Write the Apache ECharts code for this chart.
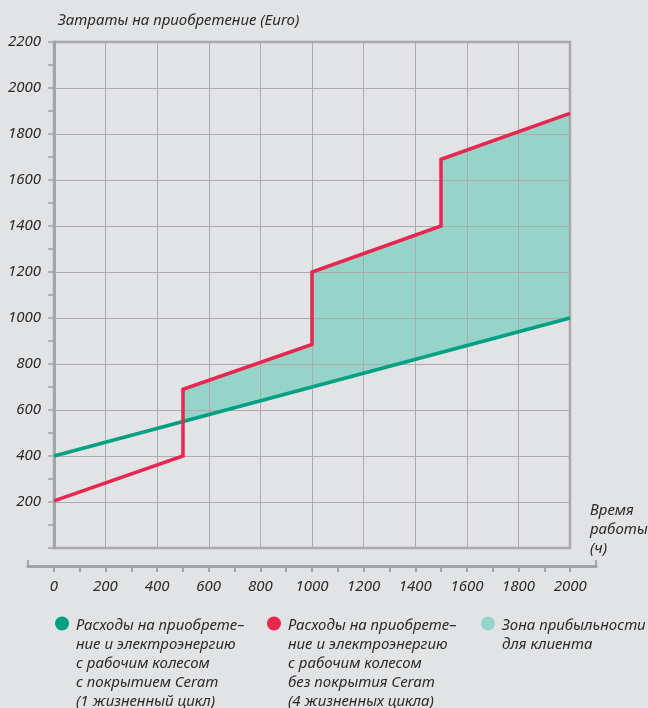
<!DOCTYPE html>
<html><head><meta charset="utf-8">
<script src="https://cdn.jsdelivr.net/npm/echarts@6/dist/echarts.min.js"></script>
<style>html,body{margin:0;padding:0;background:#e2e3e5}#c{width:648px;height:708px}</style>
</head><body><div id="c"></div>
<script>
// ---- data ----
const greenLine = [[0, 400], [2000, 1000]];
const redLine = [[0, 205], [500, 400], [500, 690], [1000, 885], [1000, 1200], [1500, 1400], [1500, 1690], [2000, 1890]];
const profitZone = [[500, 690], [1000, 885], [1000, 1200], [1500, 1400], [1500, 1690], [2000, 1890], [2000, 1000], [500, 550]];
const yTickLabels = [200, 400, 600, 800, 1000, 1200, 1400, 1600, 1800, 2000, 2200];
const xTickLabels = [0, 200, 400, 600, 800, 1000, 1200, 1400, 1600, 1800, 2000];
const xTickMarks = [0, 100, 200, 300, 400, 500, 600, 700, 800, 900, 1000, 1100, 1200, 1300, 1400, 1500, 1600, 1700, 1800, 1900, 2000];
const xAxisEnds = [-100, 2100];
const nameGreen = 'Расходы на приобрете–\nние и электроэнергию\nс рабочим колесом\nс покрытием Ceram\n(1 жизненный цикл)';
const nameRed = 'Расходы на приобрете–\nние и электроэнергию\nс рабочим колесом\nбез покрытия Ceram\n(4 жизненных цикла)';
const nameZone = 'Зона прибыльности\nдля клиента';
const yAxisTitle = 'Затраты на приобретение (Euro)';
const xAxisTitle = 'Время\nработы\n(ч)';

const FONT = 'Noto Sans';
const AX = '#a4a5a7';
const GRIDC = '#ababad';
const TXT = '#2b2b2b';
const GREEN = '#00a183';
const RED = '#e8264f';
const TEAL = '#96d3c9';

const legendItems = [
  {name: nameGreen, color: GREEN, x: 62},
  {name: nameRed, color: RED, x: 274},
  {name: nameZone, color: TEAL, x: 488}
];
const legendGraphics = [];
legendItems.forEach(it => {
  legendGraphics.push({type: 'circle', shape: {cx: it.x, cy: 623.5, r: 7}, style: {fill: it.color}, silent: true});
  legendGraphics.push({type: 'text', x: it.x + 14, y: 616.5, silent: true,
    style: {text: it.name, fontFamily: FONT, fontStyle: 'italic', fontSize: 15, lineHeight: 19, fill: TXT, verticalAlign: 'top', align: 'left'}});
});

const chart = echarts.init(document.getElementById('c'), null, {renderer: 'canvas'});
const plain = v => String(v);
chart.setOption({
  backgroundColor: '#e2e3e5',
  animation: false,
  title: [
    {text: yAxisTitle, left: 53, top: 8, textStyle: {fontFamily: FONT, fontStyle: 'italic', fontWeight: 'normal', fontSize: 15, color: TXT}},
    {text: xAxisTitle, left: 585, top: 496, textStyle: {fontFamily: FONT, fontStyle: 'italic', fontWeight: 'normal', fontSize: 15, color: TXT, lineHeight: 19}}
  ],
  grid: [
    {left: 54, top: 42, width: 516, height: 506, show: true, borderColor: AX, borderWidth: 2.5, backgroundColor: 'transparent'},
    {left: 28, top: 566, width: 568, height: 0, show: false}
  ],
  graphic: legendGraphics,
  xAxis: [
    {type: 'value', gridIndex: 0, min: 0, max: 2000, interval: 200,
      axisLine: {show: false}, axisTick: {show: false}, axisLabel: {show: false},
      splitLine: {show: true, lineStyle: {color: GRIDC, width: 1}}},
    {type: 'value', gridIndex: 1, min: -100, max: 2100, position: 'bottom',
      axisLine: {show: true, lineStyle: {color: AX, width: 3}},
      axisTick: {show: true, customValues: xTickMarks, length: 6, lineStyle: {color: AX, width: 2}},
      axisLabel: {show: true, customValues: xTickLabels, formatter: plain, margin: 13, fontFamily: FONT, fontStyle: 'italic', fontSize: 15, color: TXT},
      splitLine: {show: false}},
    {type: 'value', gridIndex: 1, min: -100, max: 2100, position: 'bottom', offset: 0,
      axisLine: {show: false},
      axisTick: {show: true, inside: true, customValues: xAxisEnds, length: 6, lineStyle: {color: AX, width: 2}},
      axisLabel: {show: false}, splitLine: {show: false}}
  ],
  yAxis: [
    {type: 'value', gridIndex: 0, min: 0, max: 2200, interval: 200,
      axisLine: {show: true, lineStyle: {color: AX, width: 3}},
      axisTick: {show: true, length: 6, lineStyle: {color: AX, width: 1.5}},
      minorTick: {show: true, splitNumber: 2, length: 6, lineStyle: {color: AX, width: 1.5}},
      axisLabel: {show: true, customValues: yTickLabels, formatter: plain, margin: 13, fontFamily: FONT, fontStyle: 'italic', fontSize: 15, color: TXT},
      splitLine: {show: true, lineStyle: {color: GRIDC, width: 1}}},
    {type: 'value', gridIndex: 1, min: 0, max: 1, show: false}
  ],
  series: [
    {name: nameZone, type: 'custom', xAxisIndex: 0, yAxisIndex: 0, z: -1,
      itemStyle: {color: TEAL},
      data: profitZone,
      renderItem: function (params, api) {
        if (params.dataIndex !== 0) return null;
        const pts = profitZone.map(p => api.coord(p));
        return {type: 'polygon', shape: {points: pts}, style: {fill: TEAL}};
      }},
    {name: nameGreen, type: 'line', xAxisIndex: 0, yAxisIndex: 0, data: greenLine, symbol: 'none', z: 3,
      itemStyle: {color: GREEN}, lineStyle: {color: GREEN, width: 3.5, cap: 'butt', join: 'miter'}},
    {name: nameRed, type: 'line', xAxisIndex: 0, yAxisIndex: 0, data: redLine, symbol: 'none', z: 4,
      itemStyle: {color: RED}, lineStyle: {color: RED, width: 3.5, cap: 'butt', join: 'miter'}}
  ]
});
</script></body></html>
